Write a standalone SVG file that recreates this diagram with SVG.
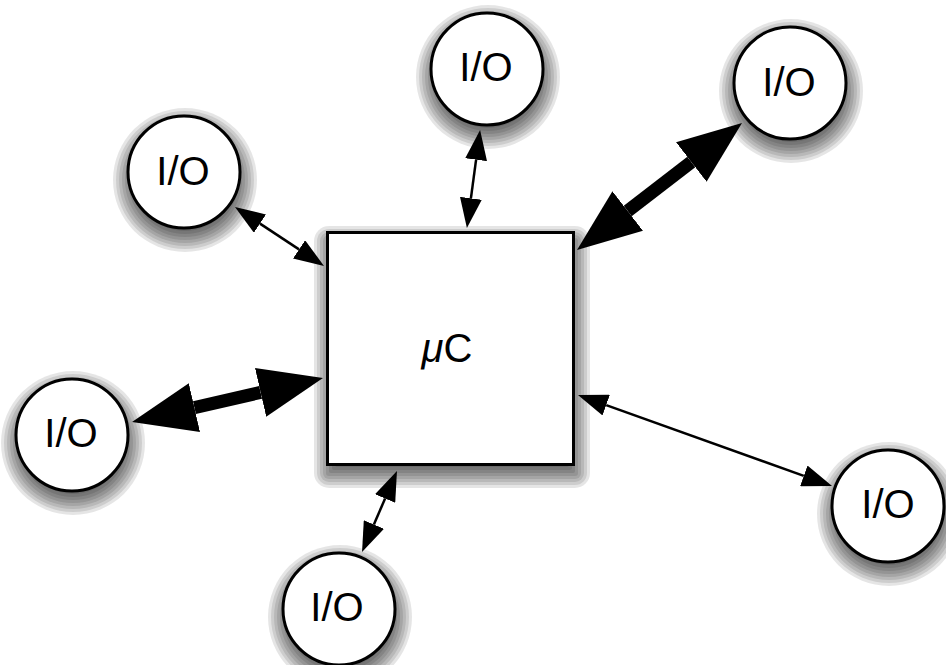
<svg xmlns="http://www.w3.org/2000/svg" width="946" height="665" viewBox="0 0 946 665">
  <defs>
    <!-- layered soft shadow disc for the round nodes -->
    <g id="disc-shade">
      <circle r="48"/>
      <circle r="51"/>
      <circle r="54"/>
      <circle r="57"/>
      <circle r="60"/>
      <circle r="63"/>
      <circle r="66"/>
      <circle r="69"/>
      <circle r="72"/>
    </g>
    <marker id="head-thin" markerUnits="userSpaceOnUse" viewBox="0 0 30 22" markerWidth="30" markerHeight="22" refX="0" refY="11" orient="auto-start-reverse">
      <path d="M0,0 L30,11 L0,22 z" fill="#000"/>
    </marker>
    <marker id="head-thick" markerUnits="userSpaceOnUse" viewBox="0 0 64 50" markerWidth="64" markerHeight="50" refX="0" refY="25" orient="auto-start-reverse">
      <path d="M0,0 L64,25 L0,50 z" fill="#000"/>
    </marker>
  </defs>
  <style>
    .node { fill: #fff; stroke: #000; stroke-width: 3; }
    .shade { fill: #000; fill-opacity: 0.1; stroke: none; }
    .shade rect, .shade circle { fill: #000; fill-opacity: 0.1; stroke: none; }
    .label { font-family: "Liberation Sans", Arial, Helvetica, sans-serif; font-size: 40px; fill: #000; text-anchor: middle; }
    .thin { stroke: #000; stroke-width: 2.5; fill: none; marker-start: url(#head-thin); marker-end: url(#head-thin); }
    .thick { stroke: #000; stroke-width: 13; fill: none; marker-start: url(#head-thick); marker-end: url(#head-thick); }
  </style>

  <rect width="946" height="665" fill="#fff"/>

  <!-- microcontroller -->
  <g id="mcu">
    <g class="shade">
      <rect x="338" y="250" width="228" height="214" rx="2"/>
      <rect x="335" y="247" width="234" height="220" rx="2"/>
      <rect x="332" y="244" width="240" height="226" rx="2"/>
      <rect x="329" y="241" width="246" height="232" rx="2"/>
      <rect x="326" y="238" width="252" height="238" rx="3"/>
      <rect x="323" y="235" width="258" height="244" rx="6"/>
      <rect x="320" y="232" width="264" height="250" rx="9"/>
      <rect x="317" y="229" width="270" height="256" rx="12"/>
      <rect x="314" y="226" width="276" height="262" rx="15"/>
    </g>
    <rect class="node" x="327.5" y="232.5" width="246" height="232"/>
    <text class="label" x="447" y="362" font-size="37"><tspan font-style="italic">μ</tspan>C</text>
  </g>

  <!-- peripheral I/O nodes -->
  <g id="io-top-left">
    <use class="shade" href="#disc-shade" x="185" y="180"/>
    <circle class="node" cx="184" cy="172" r="56"/>
    <text class="label" x="183" y="185">I/O</text>
  </g>
  <g id="io-top">
    <use class="shade" href="#disc-shade" x="488" y="77"/>
    <circle class="node" cx="487" cy="69" r="56"/>
    <text class="label" x="486" y="81">I/O</text>
  </g>
  <g id="io-top-right">
    <use class="shade" href="#disc-shade" x="791" y="91"/>
    <circle class="node" cx="790" cy="83" r="56"/>
    <text class="label" x="789" y="96">I/O</text>
  </g>
  <g id="io-left">
    <use class="shade" href="#disc-shade" x="73" y="443"/>
    <circle class="node" cx="72" cy="435" r="56"/>
    <text class="label" x="71" y="447">I/O</text>
  </g>
  <g id="io-bottom-right">
    <use class="shade" href="#disc-shade" x="889" y="514"/>
    <circle class="node" cx="888" cy="506" r="56"/>
    <text class="label" x="888" y="518">I/O</text>
  </g>
  <g id="io-bottom">
    <use class="shade" href="#disc-shade" x="340" y="617"/>
    <circle class="node" cx="339" cy="609" r="56"/>
    <text class="label" x="337" y="621">I/O</text>
  </g>

  <!-- bidirectional links -->
  <g id="connectors">
    <line class="thin" x1="260" y1="223.6" x2="299" y2="249.4"/>
    <line class="thin" x1="476.1" y1="159.7" x2="470.9" y2="198.3"/>
    <line class="thick" x1="691.3" y1="162" x2="627.7" y2="211"/>
    <line class="thick" x1="194.4" y1="407.6" x2="260.6" y2="392.4"/>
    <line class="thin" x1="606.2" y1="405.1" x2="803.8" y2="475.9"/>
    <line class="thin" x1="385.1" y1="498.5" x2="373.9" y2="524.5"/>
  </g>
</svg>
